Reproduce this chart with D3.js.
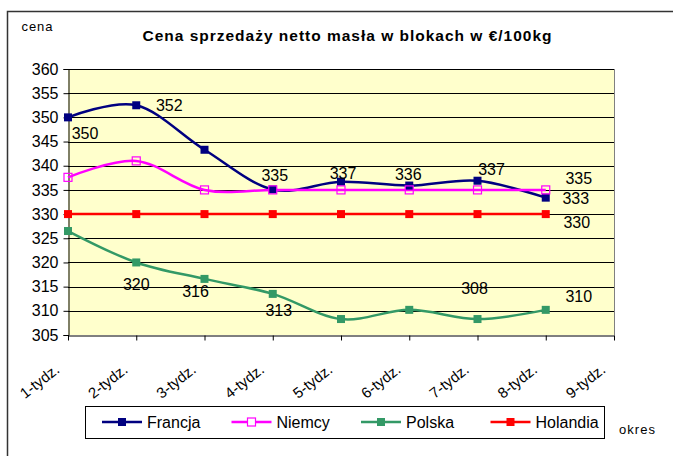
<!DOCTYPE html>
<html>
<head>
<meta charset="utf-8">
<script src="https://cdn.jsdelivr.net/npm/d3@7"></script>
<style>
  html, body { margin: 0; padding: 0; background: #fff; }
  svg { display: block; font-family: "Liberation Sans", Arial, sans-serif; }
</style>
</head>
<body>
<svg id="chart" width="673" height="456"></svg>
<script>
// ---- data ----
const categories = ["1-tydz.", "2-tydz.", "3-tydz.", "4-tydz.", "5-tydz.", "6-tydz.", "7-tydz.", "8-tydz.", "9-tydz."];
const francja  = [350, 352.5, 343.3, 335.1, 336.7, 335.9, 336.9, 333.4];
const niemcy   = [337.6, 341, 335, 335, 335, 335, 335, 335];
const polska   = [326.5, 320, 316.6, 313.5, 308.3, 310.2, 308.3, 310.2];
const holandia = [330, 330, 330, 330, 330, 330, 330, 330];
const seriesNames = ["Francja", "Niemcy", "Polska", "Holandia"];
const yTicks = [305, 310, 315, 320, 325, 330, 335, 340, 345, 350, 355, 360];
const titleText = "Cena sprzedaży netto masła w blokach w €/100kg";

// data labels: [series index, point index, text]
const dataLabels = [
  [0, 0, "350"], [0, 1, "352"], [0, 3, "335"], [0, 4, "337"], [0, 5, "336"], [0, 6, "337"], [0, 7, "333"],
  [1, 7, "335"],
  [2, 1, "320"], [2, 2, "316"], [2, 3, "313"], [2, 6, "308"], [2, 7, "310"],
  [3, 7, "330"]
];
// label offsets relative to point (placement only)
const labelOffsets = {
  "0-0": [17, 22], "0-1": [33, 6], "0-3": [2, -8], "0-4": [2, -3], "0-5": [-1, -6], "0-6": [14, -6], "0-7": [30, 6],
  "1-7": [33, -6],
  "2-1": [0, 28], "2-2": [-9, 18], "2-3": [6, 22], "2-6": [-3, -25], "2-7": [33, -8],
  "3-7": [31, 14]
};

const series = [
  { name: seriesNames[0], values: francja,  color: "#000080", fill: "#000080" },
  { name: seriesNames[1], values: niemcy,   color: "#FF00FF", fill: "none" },
  { name: seriesNames[2], values: polska,   color: "#339966", fill: "#339966" },
  { name: seriesNames[3], values: holandia, color: "#FF0000", fill: "#FF0000" }
];

const svg = d3.select("#chart");

// outer frame
svg.append("rect").attr("x", 7.5).attr("y", 11.5).attr("width", 700).attr("height", 500)
  .attr("fill", "#fff").attr("stroke", "#333").attr("stroke-width", 1.5);

const x = d3.scalePoint().domain(categories).range([68, 614]);
const y = d3.scaleLinear().domain([305, 360]).range([335, 69]);

// plot background
svg.append("rect").attr("x", 68).attr("y", 69).attr("width", 614 - 68).attr("height", 335 - 69)
  .attr("fill", "#FFFFCC");

// gridlines
svg.append("g").selectAll("line").data(yTicks.slice(1)).join("line")
  .attr("x1", 68).attr("x2", 614)
  .attr("y1", d => Math.round(y(d)) + 0.5).attr("y2", d => Math.round(y(d)) + 0.5)
  .attr("stroke", "#000").attr("stroke-width", 1);

// right border of plot
svg.append("line").attr("x1", 614.5).attr("x2", 614.5).attr("y1", 69).attr("y2", 335)
  .attr("stroke", "#808080").attr("stroke-width", 1);

// y axis
const yAxis = d3.axisLeft(y).tickValues(yTicks).tickSize(5).tickPadding(5).tickFormat(d3.format("d"));
const gy = svg.append("g").attr("transform", "translate(68.5,0)").call(yAxis);
gy.select(".domain").attr("stroke", "#000");
gy.selectAll(".tick line").attr("stroke", "#000");
gy.selectAll(".tick text").attr("font-size", 16).attr("fill", "#000")
  .attr("font-family", "Liberation Sans, Arial, sans-serif");

// x axis
const xAxis = d3.axisBottom(x).tickSize(5).tickSizeOuter(0);
const gx = svg.append("g").attr("transform", "translate(0,335.5)").call(xAxis);
gx.select(".domain").attr("stroke", "#000");
gx.selectAll(".tick line").attr("stroke", "#000");
gx.selectAll(".tick text")
  .attr("font-size", 15).attr("fill", "#000")
  .attr("font-family", "Liberation Sans, Arial, sans-serif")
  .attr("text-anchor", "end")
  .attr("dy", null).attr("y", null)
  .attr("transform", "translate(-8,36) rotate(-38)");

// lines
const line = d3.line()
  .x((d, i) => x(categories[i]))
  .y(d => y(d))
  .curve(d3.curveCardinal.tension(0));

series.forEach(s => {
  svg.append("path").datum(s.values).attr("d", line)
    .attr("fill", "none").attr("stroke", s.color).attr("stroke-width", 2.5);
});

// markers
series.forEach(s => {
  svg.append("g").selectAll("rect").data(s.values).join("rect")
    .attr("x", (d, i) => x(categories[i]) - 4)
    .attr("y", d => y(d) - 4)
    .attr("width", 8).attr("height", 8)
    .attr("fill", s.fill === "none" ? "none" : s.fill)
    .attr("stroke", s.color).attr("stroke-width", s.fill === "none" ? 1.2 : 0);
});

// data labels
svg.append("g").selectAll("text").data(dataLabels).join("text")
  .attr("x", d => x(categories[d[1]]) + labelOffsets[d[0] + "-" + d[1]][0])
  .attr("y", d => y(series[d[0]].values[d[1]]) + labelOffsets[d[0] + "-" + d[1]][1])
  .attr("text-anchor", "middle")
  .attr("font-size", 16).attr("fill", "#000")
  .text(d => d[2]);

// title
svg.append("text").attr("x", 347).attr("y", 41).attr("text-anchor", "middle")
  .attr("font-size", 15.5).attr("font-weight", "bold").attr("fill", "#000")
  .attr("textLength", 409).attr("lengthAdjust", "spacing")
  .text(titleText);

// axis titles
svg.append("text").attr("x", 21.5).attr("y", 30.5).attr("font-size", 13).attr("fill", "#000")
  .attr("textLength", 31).attr("lengthAdjust", "spacing")
  .text("cena");
svg.append("text").attr("x", 619).attr("y", 434).attr("font-size", 13).attr("fill", "#000")
  .attr("textLength", 36).attr("lengthAdjust", "spacing")
  .text("okres");

// legend
const legend = svg.append("g");
legend.append("rect").attr("x", 85.5).attr("y", 406.5).attr("width", 604 - 85).attr("height", 32)
  .attr("fill", "#fff").attr("stroke", "#000").attr("stroke-width", 1);
const legendStart = 102, legendStep = 129.5, legendY = 422;
series.forEach((s, i) => {
  const lx = legendStart + i * legendStep;
  legend.append("line").attr("x1", lx).attr("x2", lx + 40).attr("y1", legendY).attr("y2", legendY)
    .attr("stroke", s.color).attr("stroke-width", 2.5);
  legend.append("rect").attr("x", lx + 16).attr("y", legendY - 4).attr("width", 8).attr("height", 8)
    .attr("fill", s.fill === "none" ? "#fff" : s.fill)
    .attr("stroke", s.color).attr("stroke-width", s.fill === "none" ? 1.2 : 0);
  legend.append("text").attr("x", lx + 45).attr("y", legendY + 6)
    .attr("font-size", 16).attr("fill", "#000").text(s.name);
});
</script>
</body>
</html>
